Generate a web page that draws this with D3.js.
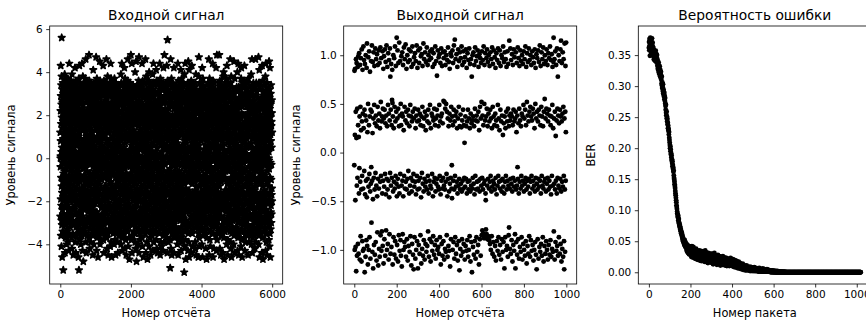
<!DOCTYPE html>
<html><head><meta charset="utf-8">
<script src="https://cdn.jsdelivr.net/npm/d3@7"></script>
<style>
body{margin:0;background:#fff}
svg{display:block}
text{font-family:"DejaVu Sans",sans-serif;fill:#000}
</style></head><body>
<svg id="c" width="866" height="321"></svg>
<script>
const titles = ["Входной сигнал", "Выходной сигнал", "Вероятность ошибки"];
const xLabels = ["Номер отсчёта", "Номер отсчёта", "Номер пакета"];
const yLabels = ["Уровень сигнала", "Уровень сигнала", "BER"];
const xTicks1 = [0, 2000, 4000, 6000];
const yTicks1 = [-4, -2, 0, 2, 4, 6];
const xTicks2 = [0, 200, 400, 600, 800, 1000];
const yTicks2 = [-1, -0.5, 0, 0.5, 1];
const xTicks3 = [0, 200, 400, 600, 800, 1000];
const yTicks3 = [0, 0.05, 0.10, 0.15, 0.20, 0.25, 0.30, 0.35];
const inputSampleStep = 2; // every stored input value is one plotted sample, numbered 0,2,4,...

const inputSignal = [
1.2,-2.7,0,-.4,2.2,.1,.8,4.3,-1.9,2.9,-3.6,1.6,-.9,3.4,-2.2,.3,-4.1,2.5,-1.3,3.8,5.6,-2.9,1.9,-3.1,.5,2.7,-1.6,-4.6,3.2,-.2,1.4,-2.4,2.6,-3.4,.1,2.1,-1.1,3.5,-2.6,.9,-1.8,1.7,-5.2,2.4,-.7,3.0,-2.0,2.2,-3.0,1.1,
-1.4,2.6,0,.7,1.8,-.1,3.3,-.6,-1.7,2.0,-3.5,.4,3.9,-2.8,1.3,-.1,2.8,-4.4,-1.0,3.6,.6,-2.3,1.5,-3.7,2.3,-.5,3.2,-1.8,2.5,-2.9,.2,1.0,-3.1,2.6,-1.2,3.4,-.8,-2.1,1.7,-4.0,2.9,-.3,1.1,-2.6,3.1,-1.5,.7,2.1,-3.3,2.2,
.9,-2.2,0,-3.4,1.6,.1,2.4,-1.3,3.7,-2.7,.3,-3.9,1.9,-.4,2.7,-1.9,3.3,-2.4,.8,-4.3,1.2,2.1,-3.0,.1,3.5,-1.1,-2.8,4.4,-.9,1.4,2.5,-3.6,.5,-1.6,3.1,-2.0,1.8,-.2,2.9,-3.2,2.0,-1.4,.6,-2.5,3.4,-.6,1.3,-2.7,2.2,-1.8,
2.8,-.5,0,1.5,3.6,-.1,.4,2.3,-1.2,-3.7,3.2,-.8,1.0,-2.6,2.0,-4.2,3.9,-1.5,.7,-3.0,1.7,-.1,2.6,-2.3,3.4,-1.0,2.7,-3.5,.2,1.9,-2.9,3.0,-.6,1.2,-4.5,2.4,-1.7,3.5,-2.0,.8,-3.1,1.6,-.3,2.7,-1.3,1.8,-2.4,.5,-1.8,2.1,
-1.6,3.3,0,.9,1.4,.1,2.5,-.4,4.2,-2.2,1.1,-1.1,3.1,-3.9,.3,2.2,-2.6,1.8,-.7,3.6,-4.4,.6,2.9,-1.9,-3.2,1.3,3.4,-.9,-2.5,2.5,.1,-3.6,2.0,-1.4,2.7,-.2,1.5,-3.0,3.2,-2.1,.8,-2.1,2.4,-1.0,1.7,1.9,-2.7,-.5,3.0,-3.3,
2.3,-1.2,0,-3.5,3.5,-.1,1.0,-4.6,2.8,-.6,1.9,-2.9,3.7,.2,-5.2,3.1,-1.7,.7,-3.1,2.1,-.8,4.3,-2.0,1.2,-3.8,2.6,-.3,-1.5,3.3,-2.6,.5,1.6,-3.4,2.1,-1.1,2.2,-2.3,.9,1.6,-4.0,-.4,1.4,-2.8,2.9,-1.9,.3,3.2,-3.0,1.8,-.9,
-2.5,2.0,0,3.4,-3.6,.1,-1.4,4.4,-2.2,.6,2.7,-3.3,1.5,-.1,3.0,-4.3,.8,-2.7,2.3,-1.0,3.8,-3.0,.2,1.7,-2.0,2.5,-4.8,3.3,-.5,1.3,-1.8,3.5,-2.9,.4,2.1,-1.7,1.9,-.8,2.0,-1.3,.9,-2.4,3.1,-3.4,1.4,-.3,2.8,-1.6,-2.1,1.6,
.7,-3.1,0,-1.1,3.7,-.1,1.2,-.4,2.9,-3.9,4.6,-1.5,.3,-2.1,3.2,1.6,-3.5,2.0,-.9,-4.4,2.6,.5,-1.9,3.4,-2.8,1.0,-.6,2.2,-3.2,2.2,-1.2,.1,3.0,-2.3,-3.6,1.8,3.5,-.2,-1.7,2.7,-2.0,.9,-2.5,3.3,1.5,-3.0,1.9,-1.0,.6,-2.2,
3.1,-1.8,0,1.3,2.5,.1,-2.9,4.8,.8,-1.3,2.0,-3.7,3.6,-2.4,.2,1.7,-4.2,2.8,-.7,-2.0,3.3,-1.1,1.1,-3.3,2.0,-.3,2.3,-2.7,.5,3.0,-3.9,1.4,-1.5,2.6,-.8,3.5,-2.1,.4,-2.6,1.9,-1.6,2.9,-3.1,.7,2.3,-2.5,1.2,-.1,3.4,-3.5,
-1.2,2.1,0,-3.0,.3,-.1,-2.3,2.7,-.9,-4.5,3.2,-1.7,.9,-3.6,2.4,-.4,4.1,-2.6,1.6,-1.0,3.0,-3.2,.6,2.2,-4.0,-1.9,1.0,3.5,-2.8,.1,2.8,-.6,-3.4,1.8,2.4,-2.0,.5,-1.4,3.3,-1.8,2.5,-.2,1.3,-2.5,1.6,-2.1,.8,2.0,-1.1,-3.1,
2.6,-3.5,0,-.7,3.1,.1,.4,4.7,-1.6,2.3,-3.0,1.7,-.3,3.4,-4.3,.9,2.0,-2.5,3.7,-1.3,-3.7,2.7,.2,-1.8,1.4,3.2,-2.9,-.8,2.2,-.1,1.9,-3.3,2.4,-1.1,.7,-4.6,3.0,-2.0,1.2,3.5,-.5,-2.7,2.2,-1.9,1.6,.3,1.9,-1.5,2.9,-3.4,
-.9,1.8,0,3.3,-3.6,-.1,.1,-1.2,4.5,-3.1,1.0,-.6,2.8,-4.0,.5,3.6,-2.1,1.5,-1.7,-3.8,2.1,3.1,-.4,-2.8,.8,-2.7,1.3,3.4,-1.4,2.6,-3.2,.6,-.2,2.0,-2.3,1.9,-1.0,3.0,-3.5,2.3,.2,-2.2,1.7,-2.6,3.5,-.7,2.4,-1.9,1.1,-3.0,
3.4,-2.7,0,1.6,-3.3,.1,2.9,4.3,-.5,-2.0,1.2,-3.8,3.1,-1.5,.3,2.2,-4.4,-.9,3.6,-2.4,1.4,.9,-3.1,2.6,-1.8,2.1,-.3,-2.9,1.9,3.2,-3.6,.4,-1.3,2.4,-2.8,3.0,-.1,1.1,-2.2,1.7,-3.4,2.0,-.8,1.5,-1.6,2.7,-1.9,.7,3.3,-2.5,
-.2,2.3,0,4.6,-1.4,-.1,-2.6,3.5,-.6,-3.7,2.8,.5,-1.9,3.1,-4.2,1.7,-.9,2.1,-3.0,.2,3.8,-2.3,1.3,-1.0,-3.5,2.5,-.4,3.3,-2.8,.8,-4.5,1.8,-1.6,2.9,-.3,1.6,-3.3,1.2,-2.1,2.0,-.7,2.4,-1.8,.6,1.5,-2.4,3.0,-1.2,-1.6,2.0,
1.3,-3.4,0,-.8,3.5,.1,.3,-4.1,2.2,-1.5,3.2,-2.9,1.6,4.4,-.4,-3.1,2.0,-1.1,.9,-3.9,3.7,-.2,1.8,-2.5,2.6,-1.7,-4.6,3.0,.5,-2.3,1.4,3.4,-1.6,-.6,2.3,-1.3,2.2,-2.7,1.0,-3.2,.1,2.9,-1.9,1.6,-2.3,1.7,-.5,2.4,-2.8,.7,
-3.5,3.1,0,1.9,-2.2,-.1,-.7,-3.0,2.5,.4,-1.8,3.4,-4.0,1.2,-2.6,2.8,-.3,3.7,-3.3,1.5,-1.4,.8,-3.8,2.1,3.3,-2.1,.2,2.3,-1.6,-3.4,2.6,-.9,1.7,-4.5,3.0,-2.4,1.1,3.5,-.5,-2.9,2.2,-1.2,.6,-1.7,2.0,-.1,1.4,-2.0,3.2,-3.1,
2.0,-1.6,0,-3.2,.5,.1,-2.5,1.3,-.8,-3.9,2.7,-.2,1.0,-2.3,3.1,-4.4,.7,2.4,-1.3,3.4,-3.0,1.6,-.6,-2.7,2.7,.3,2.9,-3.6,1.8,-1.1,-2.0,3.3,.9,-2.1,2.2,-.4,1.5,-3.3,1.8,-1.9,.6,2.5,-2.8,-.7,3.0,-3.5,1.2,2.1,-1.4,-2.6,
1.7,-2.2,0,-.3,-3.4,-.1,-1.0,.8,3.9,-2.9,1.1,-4.0,2.7,-.6,3.5,-1.7,-3.1,1.9,.2,-2.4,3.0,4.4,-3.7,1.4,-.9,2.2,-1.5,3.4,-2.6,.4,-4.3,2.8,-.1,1.6,-3.2,1.6,-2.0,.9,-1.2,2.5,-1.6,1.3,2.6,-.8,-2.5,3.1,-.4,-2.8,2.0,-1.3,
.5,3.3,0,1.0,-3.5,.1,-.5,4.2,-1.8,-3.0,1.8,.1,-2.2,3.0,-4.2,2.3,-1.1,3.7,-3.3,.7,-.8,1.5,-2.8,2.9,-1.6,2.8,-3.8,.3,2.1,-.2,-2.4,3.5,-1.3,1.2,-4.5,2.7,-.7,3.2,-3.1,.9,-1.9,2.0,-1.6,2.0,-.3,1.6,-2.6,3.4,-1.0,-1.9,
2.9,-1.4,0,3.6,-2.5,-.1,4.6,-3.4,1.4,2.2,-1.7,3.1,-4.1,.2,-2.1,1.9,-.9,2.6,-3.2,2.3,-1.2,.8,-3.7,3.3,-.1,2.4,-2.8,1.1,-4.7,3.0,.4,-1.5,2.8,-3.0,1.7,2.1,-2.3,-.4,3.5,-1.6,1.3,-1.0,2.1,-2.7,.9,3.4,-2.3,-.7,2.5,-1.8,
4.8,-.3,0,2.3,1.0,.1,3.2,-1.1,-3.8,.6,2.7,-2.6,4.4,-.8,1.5,-4.4,3.0,-1.6,.3,2.0,-3.1,1.7,-.5,1.2,-2.3,2.9,-3.6,.9,-1.3,3.4,-2.0,1.8,-.2,2.5,-2.8,.4,1.6,-1.9,1.3,-3.4,2.2,-.6,2.2,-2.4,-2.6,1.1,3.1,-1.0,.7,-3.0,
2.1,-1.7,0,-3.5,.2,-.1,-2.9,2.8,-.4,4.0,-3.9,1.7,-1.2,3.3,-2.2,.8,2.5,-4.2,-.9,3.0,-1.5,1.9,-3.2,4.5,-.1,2.3,-2.5,.5,1.7,-4.8,-1.0,2.6,-3.0,1.1,-.7,3.2,-2.1,1.6,-1.7,2.9,.3,-1.4,2.3,-2.7,1.0,-.5,3.4,-3.4,2.0,-1.9,
.9,3.1,0,-4.0,1.5,.1,2.4,-.3,3.6,-3.3,2.0,-1.8,.6,-2.8,4.7,-4.4,1.2,3.4,-.6,-2.0,2.7,-3.5,.1,1.8,-1.1,3.0,-2.6,-3.8,2.2,.4,-1.6,2.1,-.8,2.9,-3.1,1.3,-2.3,3.3,-2.5,.7,-.2,2.1,-1.4,1.8,-2.9,1.6,-1.6,2.5,-.9,3.5,
-1.3,2.6,0,.5,3.3,-.1,1.0,4.4,-3.7,-.5,2.3,-1.6,1.9,-4.1,3.0,-.7,-2.5,3.6,.8,-3.4,1.4,-1.0,2.8,-2.8,2.2,-.1,-4.6,3.2,1.1,-1.9,2.4,-3.2,.3,-2.1,3.5,1.7,-.8,-1.9,2.0,-1.2,1.9,-2.4,.6,1.5,-1.6,2.9,-.4,-1.7,3.1,-2.3,
1.2,-2.7,0,-.2,-3.5,.1,4.6,-1.4,.7,-3.0,3.1,-2.0,1.6,-4.4,-.6,2.5,-1.1,3.8,-3.2,.4,-2.3,1.3,-.9,2.8,-3.9,2.1,-1.6,.9,-2.6,3.2,-.3,1.9,-3.4,2.4,-4.7,3.5,-1.8,.2,-2.9,1.0,2.2,-.7,-1.6,2.3,-1.3,.6,3.0,-2.2,1.7,-3.1,
-.8,2.7,0,1.1,3.6,-.1,.3,-2.4,4.0,-4.1,2.3,-.4,1.4,-3.0,3.3,-2.1,.9,2.0,-3.7,-1.0,2.5,-2.8,1.6,-.5,2.6,-3.4,.1,3.1,-1.7,-4.5,2.2,-.2,1.2,-2.5,1.7,-3.1,1.8,-1.1,3.4,.5,-2.0,2.9,-1.8,.7,2.2,-1.4,1.5,-2.7,3.0,-.6,
3.2,-3.6,0,-1.2,2.4,.1,-2.9,3.9,-.7,-4.3,1.9,2.8,-2.0,.2,-3.3,3.5,-1.4,1.0,-2.6,4.4,-.3,2.1,-3.9,1.7,-1.8,3.0,-.9,-2.3,2.6,-2.0,.6,3.4,-3.1,1.4,-.4,2.3,-1.6,2.7,-2.8,.9,-3.5,1.2,3.1,-1.0,-2.2,2.0,-2.6,.3,1.7,-1.5,
-2.5,1.6,0,-.5,-3.4,-.1,-1.3,.8,4.1,-3.8,1.1,-2.2,2.5,-.2,3.6,-4.2,1.4,-1.8,3.0,-2.7,.5,2.2,-3.2,2.5,-.8,1.8,-2.4,3.4,-4.4,.1,-1.1,2.7,-3.0,1.0,1.8,-.6,-2.1,2.0,-1.6,1.3,2.3,-1.5,.7,-2.9,3.1,-.3,1.9,-2.0,2.4,-1.2,
3.5,-2.8,0,1.5,-3.5,.1,-.6,4.4,-1.9,-3.1,.9,3.2,-2.5,1.7,-4.5,2.6,-1.0,-.3,3.7,-2.2,1.2,-3.9,2.9,.2,-1.4,2.0,-2.6,1.1,-.7,3.3,-3.3,.6,2.3,-1.7,-4.1,1.9,1.6,-2.0,.3,-2.9,2.8,-.4,-1.7,1.4,2.6,-1.3,2.1,-3.0,.8,-2.4,
1.6,-3.2,0,-.9,-4.3,-.1,.5,-1.6,3.5,-2.7,-.1,4.2,-3.6,1.3,2.0,-2.3,3.2,-1.2,.7,-3.9,2.7,-.6,1.8,-2.8,4.8,-1.8,-3.4,2.2,.4,3.4,-2.0,1.0,-2.6,2.9,-.3,1.7,-1.4,1.5,-3.0,2.3,-.8,-2.5,1.9,-3.5,.9,2.6,-1.1,3.1,-2.0,1.2,
-2.1,3.3,0,1.9,-3.4,.1,-1.5,4.3,-2.8,.6,3.0,-3.7,1.2,-.9,2.1,-4.4,1.6,-2.2,3.6,5.5,-1.0,2.8,-3.1,.3,2.0,-2.5,1.4,-.6,3.2,-3.9,2.0,-1.7,.8,-2.7,3.5,-.2,2.6,-2.9,1.1,-1.3,1.8,-3.3,.5,2.3,-2.0,2.5,-.7,1.7,-1.6,2.9,
1.3,-2.4,0,-.5,-3.8,-.1,-5.1,.9,3.5,-1.6,-2.7,1.8,4.6,-3.3,.2,2.7,-1.1,-4.2,3.0,-.8,1.5,-3.0,2.4,-1.9,3.7,.4,-2.6,2.9,-4.5,1.0,-.3,2.9,-3.5,1.6,-1.2,3.3,-2.1,.7,-1.9,2.0,-.9,1.9,-2.8,1.2,-2.1,2.5,-1.4,.1,3.4,-3.2,
-2.3,1.1,0,-3.4,.5,.1,-.7,-1.8,4.2,-3.0,2.8,-4.4,1.4,-.2,3.2,-2.5,.8,2.3,-3.7,-1.0,2.0,-1.5,1.9,-2.9,.3,3.4,-3.6,-.6,2.6,-2.7,1.2,-2.0,3.0,.6,-1.3,-3.2,2.4,2.5,-2.4,1.7,-.4,-1.9,3.3,-1.7,.9,2.2,-2.7,1.0,1.9,-3.5,
.2,2.7,0,1.5,-1.2,-.1,-2.2,-4.0,2.1,.7,-1.6,3.1,-3.5,.4,4.4,-2.6,1.8,-.8,2.9,-4.5,1.0,3.6,-2.0,-.3,-3.3,2.4,-1.4,1.3,3.3,-2.8,-3.8,.5,2.0,-1.0,2.7,-.6,-2.4,3.0,-1.6,1.6,2.6,-1.8,.1,-2.2,3.4,-1.1,2.2,-2.9,1.2,1.8,
-3.4,1.9,0,3.2,-2.1,.1,4.1,-3.7,2.5,-1.3,-4.3,1.4,3.0,-.7,-2.5,2.3,-3.2,.3,3.7,-1.8,1.7,-.2,-3.9,2.8,2.6,-2.7,.6,-1.5,3.4,-3.5,2.0,-2.6,1.1,-.9,3.1,-2.2,2.6,-3.0,.4,1.5,2.0,-1.1,-1.6,2.2,-.4,3.5,-2.8,1.0,-2.0,2.9,
1.4,-2.6,0,-.8,-5.3,-.1,-1.2,.5,3.9,-3.4,1.7,-4.1,2.7,-.3,-2.0,3.4,.8,-3.0,4.4,-1.6,2.3,-.6,-3.8,1.2,3.0,-2.4,-4.7,1.9,.2,1.6,-1.4,2.5,-3.3,1.0,-.2,2.2,-2.9,.7,-1.9,2.8,-1.6,1.5,-.9,3.2,-2.4,.4,2.0,-2.2,1.7,-1.0,
-3.1,2.4,0,-1.7,3.5,.1,1.3,-4.3,3.0,-.4,2.2,-3.5,4.5,-1.1,.9,-2.3,3.3,-3.9,1.6,-.7,2.7,-1.5,.3,-3.2,4.1,-4.6,1.9,-.1,2.6,-2.5,1.7,-1.0,1.1,-1.6,2.0,-.6,3.2,-2.1,.5,-2.0,1.4,-1.8,2.9,-3.0,2.6,-.3,-2.7,1.7,3.4,-3.4,
2.3,-.9,0,1.2,3.6,-.1,2.8,-2.4,.4,-4.4,3.1,1.0,-3.1,4.3,-.5,-2.0,2.1,-1.2,3.4,-3.5,.7,-4.1,2.5,-.2,1.6,-2.8,1.8,-1.6,.9,-3.3,2.9,-.7,2.7,-2.3,1.3,-1.8,.2,2.2,-1.0,3.2,-2.6,1.5,-2.7,3.0,-.3,1.8,-1.9,.6,-3.0,2.6,
-1.1,3.3,0,.8,2.0,.1,-2.2,-.6,1.6,-3.9,2.7,-1.5,3.5,-4.2,.3,-2.7,1.1,2.4,-.9,-3.2,3.9,-1.8,.5,2.9,-2.5,-4.5,1.4,-.3,3.1,-1.3,2.1,-1.6,2.4,.7,-2.0,1.7,-.8,-3.0,2.6,-2.0,.1,1.6,-2.4,1.2,-1.6,3.0,-3.3,.9,-.4,2.3,
-2.9,1.5,0,-4.6,.4,-.1,-1.0,-3.5,3.8,-.7,1.3,-2.6,4.7,-1.9,2.2,-3.7,.6,3.1,-.2,-2.3,1.8,-4.1,2.8,-1.3,3.5,-.5,-3.0,1.0,2.0,-2.1,2.6,-.9,-1.8,1.6,3.2,-1.6,.2,-2.7,2.0,-2.3,1.7,-.3,1.4,-3.2,2.4,-1.2,2.5,-2.5,.8,-1.6,
3.0,-1.7,0,-4.0,2.2,.1,3.5,-2.9,1.3,4.2,-3.3,2.0,-1.1,-4.6,3.3,.9,-2.3,1.9,-.3,3.7,-3.6,1.2,2.7,-1.8,-2.6,2.6,-.8,1.6,-3.0,2.4,-2.3,.4,3.1,-1.5,.1,2.9,-1.9,1.0,-2.0,1.9,-.5,-3.4,2.3,2.4,-1.3,1.5,-2.7,3.2,-.9,-1.7,
1.8,-2.1,0,-3.5,.6,-.1,-1.2,2.5,-4.2,-.4,1.1,3.1,-2.8,.3,-1.7,2.8,-3.1,2.5,-.7,1.4,-2.4,-4.7,2.1,.8,3.4,-1.5,1.7,-3.7,2.6,-.2,1.8,-2.5,.5,-1.0,-3.3,2.3,2.3,-1.9,1.2,-2.0,-.6,2.9,-2.2,.9,3.5,-3.0,1.6,-1.4,2.0,-1.9,
.3,2.6,0,4.6,-1.1,.1,1.3,3.2,-.5,-4.5,2.1,-1.8,.7,3.7,-3.0,-.2,-2.2,2.9,-3.8,1.5,2.1,-1.4,.4,-2.7,3.0,-4.1,1.9,-.9,2.4,-3.4,3.4,-.4,1.0,-2.0,2.8,-1.6,2.7,-1.6,.6,-2.4,1.7,3.5,-1.2,-2.3,2.2,-.7,-2.9,3.1,1.1,-3.5,
2.4,-1.5,0,1.0,3.3,-.1,-2.5,4.4,-3.2,1.8,2.9,-1.1,.5,-4.6,3.6,-2.1,1.4,-.8,2.5,-3.5,2.0,-1.9,.2,3.1,-2.8,-4.2,1.2,2.2,-.6,-1.3,3.5,-3.1,.8,2.6,-2.3,1.6,-.1,-1.9,2.7,-1.6,3.2,-2.6,1.1,-.4,-2.4,2.0,1.8,-3.0,.7,-1.0,
-2.7,1.7,0,-.9,-3.6,.1,4.2,-1.8,.4,-2.3,1.3,-4.3,3.0,-.5,2.1,-3.1,.9,4.8,-1.4,-2.0,2.8,-3.8,1.5,-.2,1.6,-1.2,-2.9,2.3,.6,2.5,-2.6,1.0,-1.6,3.2,-2.6,.3,2.5,-3.3,1.9,-.7,1.9,-2.2,1.1,-2.0,2.9,-1.0,.2,-3.4,3.5,1.4,
4.8,-2.5,0,-1.3,3.1,-.1,2.2,-.4,1.6,-4.2,3.6,-1.9,2.6,-2.8,.1,2.3,-3.3,1.2,-.8,2.0,-1.6,3.4,-4.5,.5,-2.2,2.7,-.6,-3.6,1.8,1.8,-1.1,.9,-2.7,3.0,-2.0,2.4,-.3,1.4,-3.1,2.1,-1.8,2.1,-1.9,.8,3.3,-2.4,1.0,-.9,2.8,-3.5,
.6,3.2,0,-4.4,1.9,.1,2.7,-.2,3.8,-3.2,1.2,-2.1,4.0,-.7,-3.7,2.3,-1.0,.4,3.3,-4.7,1.6,-2.8,2.9,-.5,-1.7,1.6,-3.4,.9,2.0,-2.3,2.4,-.9,-1.9,1.4,3.0,-1.5,2.4,-3.0,.2,-2.1,2.6,-.6,1.7,-2.5,3.5,-3.3,1.1,-1.9,2.6,-.3,
-2.0,2.5,0,1.0,3.7,-.1,-4.0,2.0,-1.5,4.3,1.5,-2.9,3.2,-.1,-3.3,2.2,-1.2,.7,-4.5,3.4,-.4,1.8,-2.4,2.8,-3.8,2.0,-1.7,.3,-2.7,2.3,-3.1,1.3,3.5,-.6,-1.1,2.9,-2.3,1.6,-2.2,.8,1.9,-1.6,-.3,2.1,-1.9,1.2,3.1,-2.8,.4,-2.6,
3.0,-1.0,0,-3.4,.5,.1,4.6,-1.3,1.7,-3.9,2.7,-.5,-2.6,3.5,-4.2,1.1,-1.6,2.4,.2,-3.0,3.8,-2.1,1.4,-.9,-4.6,2.0,3.3,-3.5,.7,-1.4,-2.5,2.2,-.2,1.9,-3.2,2.6,-1.8,.9,-1.7,3.1,-.7,1.5,-2.9,2.4,-1.1,.3,-3.3,2.3,-2.0,1.6,
-1.5,2.8,0,.8,-4.0,-.1,-.3,1.2,-2.4,4.5,-3.6,2.1,-1.0,3.0,.4,-2.8,1.6,-4.4,2.5,-.6,3.7,-2.2,.2,1.3,-3.4,-1.2,2.1,-2.6,2.0,-.8,3.2,-1.8,1.7,-1.7,-2.7,.5,2.6,-2.0,1.6,-.4,-3.2,1.0,2.7,-1.4,2.2,-2.5,.7,3.3,-1.6,1.9,
-.9,-2.7,0,1.4,-3.3,.1,-1.5,4.0,-.5,-4.3,1.8,3.1,-2.2,.6,-1.2,2.7,-3.7,1.0,-.2,4.4,-2.5,1.5,-3.0,3.3,-1.8,.3,2.4,-4.5,1.1,-.7,1.8,-2.9,.9,-1.3,2.0,-3.5,1.6,-.4,1.6,-2.1,2.6,-1.0,2.6,-1.9,.2,-2.4,1.3,-.6,3.0,-3.4,
2.5,-.8,0,1.9,3.2,-.1,.5,-4.1,2.8,-1.1,3.7,-2.6,1.3,-.3,4.2,-3.3,.9,2.1,-1.7,-3.8,2.4,2.6,-.6,1.0,-2.4,-4.6,3.4,-1.4,.4,2.6,-3.0,1.6,-.9,3.5,-2.8,1.2,-2.4,2.9,.1,-1.6,3.3,-2.2,.7,2.0,-1.6,-.2,2.0,-1.9,1.5,-3.1,
1.0,3.6,0,-.5,-3.7,.1,-1.3,4.3,-3.0,.8,-2.7,1.7,3.0,-4.3,-.1,2.6,-1.8,.4,3.4,-3.4,1.4,-2.5,2.7,-.9,2.0,-3.9,1.1,-1.2,2.8,-2.6,.6,3.2,-2.0,1.5,-.6,-3.2,2.4,1.9,-1.6,.2,-2.8,1.9,-2.0,3.5,-1.0,.9,2.7,-3.5,1.2,-2.1,
3.1,-1.7,0,-3.6,2.4,-.1,-2.4,1.4,-.8,-4.5,2.0,-3.1,3.7,.6,-1.4,-2.2,2.9,-.4,1.6,-3.9,2.4,-1.1,2.3,-2.8,.1,-2.2,3.3,-.7,1.0,-2.0,2.6,-3.4,1.8,2.1,-1.5,-.2,-2.6,3.0,-2.7,1.3,2.1,-.9,1.6,-3.2,.5,-1.8,2.5,-2.3,1.7,-3.5,
.7,2.5,0,3.9,-1.2,.1,1.5,-4.0,2.9,-.5,3.4,-1.9,.2,-3.4,4.6,1.1,-2.7,2.2,-.8,-4.4,3.1,-1.4,1.8,-3.7,.4,2.6,2.3,-2.1,-.3,-3.1,1.3,-2.6,2.7,-1.0,3.5,-2.3,.9,-1.6,3.2,-1.8,2.0,-.6,2.0,-2.9,1.6,-.1,-3.3,2.4,-1.5,1.7,
-3.6,1.2,0,-.9,-2.4,-.1,-4.2,1.6,.3,3.3,-1.8,-3.0,2.1,4.6,-.4,1.4,-2.6,1.6,-3.9,.8,-1.3,2.9,-2.5,1.9,-.6,3.5,-2.0,.5,-3.5,2.3,2.0,-1.1,-2.8,1.0,3.1,-2.3,.2,2.5,-1.7,-3.2,1.7,1.8,-2.3,.7,-1.0,2.8,-1.7,1.3,-.2,2.4,
-2.1,.6,0,-3.3,1.8,.1,4.7,-2.6,2.4,-4.0,.3,-.9,3.5,-3.6,1.1,2.2,-1.9,4.1,-2.9,.5,-4.6,1.6,-.4,3.2,-2.2,2.7,-3.4,.9,-1.2,1.9,-1.8,2.0,1.3,-.7,-2.7,3.4,-1.6,2.5,-2.2,.1,-2.4,2.6,-.5,1.5,-3.1,1.6,-1.1,.8,-1.9,2.3,
1.5,-2.8,0,-.6,-4.4,-.1,.4,-1.8,4.3,-3.2,2.8,-.2,1.2,-2.3,3.6,-3.7,1.8,-1.3,.7,-4.7,3.1,-2.5,2.4,2.6,-.9,-3.0,1.0,-1.6,2.9,-1.6,.2,1.7,-2.1,1.6,-.3,-2.0,2.3,-1.0,3.4,-2.8,1.3,2.2,-3.4,.5,-1.5,2.5,-2.1,3.0,-.8,1.9,
-3.3,2.6,0,1.1,3.8,.1,-2.9,2.0,-4.3,.6,4.4,-1.9,3.1,-3.5,1.5,-.1,2.5,-2.4,-3.9,3.3,.9,-1.2,2.7,-2.6,1.8,-4.5,.3,2.7,-1.7,3.5,-3.0,1.4,-.6,2.2,-2.1,2.0,-1.7,.8,1.7,-1.1,2.9,-.4,-3.2,1.6,-2.6,1.2,-2.0,.4,3.0,-2.7,
2.0,-1.3,0,-3.8,.3,-.1,4.5,1.0,-.5,-3.1,2.8,-4.1,1.7,-1.6,3.2,.6,-2.8,2.3,4.2,-3.5,-.9,1.4,-2.0,1.9,-4.6,2.5,-.2,1.1,-3.3,3.0,-1.7,2.6,-2.5,.8,-2.2,3.4,-1.0,2.1,-3.0,1.5,-.3,1.7,-2.6,.5,-1.7,2.7,-1.4,2.1,-2.0,1.2
];

const outputSignal = [
-.13,.84,-1.0,.18,.86,-.49,-.97,.42,.96,-1.22,.15,.92,-.34,-1.06,.45,-.26,.88,-.94,.28,.99,
-1.04,.16,-.42,1.02,-.16,.37,-1.1,.9,-.3,.47,-.86,.97,.23,-.38,-1.12,1.06,.32,-.24,-.91,.85,
.4,-1.01,-.37,1.09,.25,-.99,.95,-.19,.44,-1.23,.91,-.43,.38,-1.07,1.0,-.29,.33,-.9,.87,-.46,
1.12,-.96,.21,-.27,-1.15,.5,.98,-.35,-1.0,.28,1.04,-.22,-.87,.37,.83,-.4,-1.09,.44,-.32,.94,
-.15,-.72,.42,1.1,-.29,-1.02,.2,.93,-.48,-1.19,.35,1.03,-.26,-.95,.49,.89,-.38,-1.05,.3,1.07,
-.21,-.92,.38,.96,-.34,-1.11,.27,1.01,-.45,-.82,.47,.9,-.27,-1.16,.33,1.05,-.37,-.99,.4,.92,
-1.07,.25,-.3,1.08,-.85,.52,-.24,.97,-1.01,.32,-.81,.37,-.42,1.04,-.96,.45,-.29,.86,-1.14,.35,
.99,-.35,-.89,.44,1.06,-.22,-1.06,.3,.93,-.43,-.8,.38,1.1,-.27,-1.0,.27,.88,-.38,-.94,.49,
1.02,-.29,-1.1,.4,.95,-.46,-.84,.33,1.07,-.21,.78,-1.04,.44,-.34,.91,-.97,.28,-.26,.54,.85,
.51,-1.15,.37,-.4,1.0,-.87,.25,-.3,.97,-1.05,.47,-.37,1.09,-.91,.32,-.24,.89,-1.09,.42,-.32,
1.18,-.45,-.95,.35,1.05,-.27,-1.12,.45,.92,-.35,-.85,.27,1.13,-.42,-1.01,.38,.94,-.22,-.9,.5,
-1.06,.28,.99,-.34,-1.17,.4,1.03,-.29,-.84,.37,.9,-.45,-1.0,.23,1.08,-.24,-.92,.47,.96,-.37,
-.97,.33,1.11,-.3,-1.07,.42,.86,-.38,-.89,.3,1.0,-.27,-1.11,.44,.93,-.19,-.96,.38,1.06,-.42,
.27,-1.02,.95,-.34,.49,-.86,1.04,-.26,.37,-1.16,.88,-.4,.32,-.94,1.09,-.29,.42,-1.05,.91,-.22,
-1.2,.35,.98,-.35,-.87,.45,1.02,-.3,-1.09,.25,.94,-.43,-1.0,.38,1.1,-.24,-.91,.32,.87,-.38,
-1.19,.44,1.05,-.29,-.95,.33,.92,-.37,-1.04,.4,1.07,-.26,-.85,.28,.99,-.46,-1.14,.37,1.01,-.21,
-.99,.47,.89,-.32,-1.06,.27,1.12,-.4,-.9,.35,.96,-.27,-1.1,.42,1.03,-.35,-.94,.23,.93,-.3,
-1.02,.38,1.08,-.38,-.96,.32,.9,-.24,-.81,.44,1.0,-.42,-1.07,.3,.95,-.29,-.89,.49,1.04,-.34,
-1.12,.25,.97,-.37,-.92,.4,1.06,-.22,-1.01,.37,.88,-.45,-.86,.33,1.02,-.3,-1.05,.45,.91,-.26,
-.95,.28,1.09,-.4,-1.09,.35,.94,-.32,-.9,.44,.79,-.27,-1.0,.38,1.05,-.35,-.97,.27,.98,-.38,
-1.04,.49,1.01,-.24,-.87,.32,.92,-.43,-1.15,.37,1.07,-.29,-.94,.4,.89,-.37,-1.06,.3,1.03,-.26,
-.91,.53,.97,-.34,-1.1,.52,1.04,-.38,-.99,.45,.9,-.3,-1.02,.5,1.0,-.22,-.85,.42,.95,-.45,
-1.07,.35,1.08,-.27,-.96,.27,.93,-.4,-1.01,.4,.86,-.32,-1.17,.33,1.02,-.26,-.89,.47,.99,-.37,
-.13,-.47,.37,1.05,-1.0,.28,.92,-.29,-.92,.44,1.1,-.38,-1.09,.32,1.16,-.24,-.87,.38,.96,-.35,
-1.04,.42,1.01,-.3,-.95,.25,.88,-.42,-1.11,.35,1.06,-.34,-.91,.47,.94,-.27,-1.21,.27,1.03,-.38,
-.99,.39,.97,-.32,-1.06,.26,1.09,-.4,-.89,.33,.9,-.29,-1.02,.44,1.04,-.37,-.94,.28,.93,-.26,
.1,-1.1,.98,-.35,.37,-.96,1.06,-.27,.27,-1.01,.87,-.42,.32,-.9,1.02,-.3,.44,-1.07,.95,-.38,
-1.0,.35,1.07,-.29,-.86,.25,.91,-.4,-1.12,.4,.96,-.34,-.92,.3,.78,-1.23,.33,-.37,1.0,-.26,
-.97,.37,1.03,-.32,-1.05,.27,.9,-.43,-.91,.45,1.08,-.24,-1.09,.33,.94,-.38,-.87,.38,.99,-.3,
-1.02,.32,1.05,-.37,-.95,.42,.88,-.29,-1.15,.23,1.01,-.4,-.89,.47,.97,-.27,-1.06,.35,.92,-.34,
.52,-.85,1.04,-.26,-.8,.38,.95,-.38,-.83,.28,1.09,-.32,-.88,.5,.9,-.29,-.86,.33,1.02,-.42,
-.49,-.79,.37,.97,-.84,.45,1.06,-.34,-.89,.27,.93,-.27,-.86,.4,1.0,-.37,-.9,.32,.89,-.3,
-.94,.44,1.03,-.24,-1.0,.35,.96,-.4,-.86,.25,1.08,-.35,-1.04,.47,.91,-.29,-.92,.37,1.05,-.32,
-1.07,.28,.98,-.38,-.96,.4,.87,-.26,-1.11,.33,1.02,-.43,-.91,.27,.95,-.34,-1.01,.49,1.07,-.24,
-.87,.35,.92,-.3,-1.05,.23,1.05,-.37,-.95,.44,.89,-.29,-1.1,.32,1.0,-.4,-.89,.38,.97,-.27,
-1.02,.18,1.09,-.35,-.92,.3,.93,-.42,-1.19,.37,1.03,-.3,-.87,.25,.96,-.24,-1.0,.42,.88,-.38,
-.96,.32,1.04,-.29,-1.07,.45,.91,-.34,-.85,.27,-.77,1.15,.38,-.37,-.99,.33,1.07,-.27,-1.04,.4,
.95,-.32,-.9,.37,1.01,-.4,-1.12,.28,.9,-.26,-.95,.44,1.06,-.35,-1.01,.32,.98,-.29,-.84,.35,
-1.19,.42,1.03,-.38,-.92,.21,.92,-.34,-1.05,.38,-.15,1.08,-.27,-.89,.3,.97,-.42,-1.09,.45,.89,
-.3,-.97,.33,1.05,-.37,-1.02,.27,.94,-.24,-.87,.4,1.0,-.34,-1.1,.37,.91,-.29,-.94,.49,1.04,
-.4,-1.0,.35,.96,-.32,-1.06,.44,1.09,-.26,-.91,.28,.88,-.38,-1.14,.52,1.02,-.29,-.96,.38,.93,
-.35,-1.04,.32,1.07,-.27,-.86,.42,.95,-.42,-1.07,.47,1.0,-.3,-.9,.37,.9,-.24,-1.01,.33,1.04,
-.37,-.95,.45,.98,-.29,-1.11,.4,.92,-.34,-1.0,.25,1.06,-.4,-.92,.5,.87,-.26,-1.05,.35,1.01,
-1.2,-.32,.42,.97,-.38,-.89,.32,1.05,-.27,-1.09,.44,.93,-.35,-.97,.38,1.1,-.29,-1.02,.28,.89,
-.42,-.94,.47,1.03,-.24,-1.06,.37,.96,-.34,-.87,.27,1.08,-.37,-1.12,.42,.91,-.3,-.96,.55,1.0,
-.27,-1.04,.35,.94,-.4,-.91,.45,1.06,-.32,-1.0,.4,.9,-.26,-1.1,.32,1.02,-.38,-.95,.44,.97,
-.29,-1.05,.38,1.09,-.35,-.9,.28,.95,-.43,-1.07,.37,1.01,-.24,-.99,.49,.88,-.34,-1.02,.25,.93,
1.18,-.81,.35,-.32,.96,-1.1,.42,-.38,1.04,-.92,.17,-.29,.9,-1.01,.33,-.42,1.07,-.96,.45,-.26,
.78,-1.06,.38,-.34,1.0,-.87,.3,-.37,.94,-1.04,.44,-.27,1.06,-.94,.37,1.15,-.4,-1.12,.32,.92,
-.3,-.99,.4,1.03,-.35,-1.07,.47,.96,-.24,-.91,-1.2,.35,1.12,-.38,-1.02,.42,.89,-.29,.21,1.13
];

const ber = [
.362,.371,.358,.376,.366,.349,.372,.378,.361,.368,.355,.374,.369,.352,.363,.377,.36,.357,.37,.364,
.356,.348,.361,.351,.343,.358,.35,.346,.355,.341,.353,.349,.344,.357,.347,.34,.352,.338,.346,.35,
.339,.333,.342,.328,.336,.331,.325,.338,.322,.33,.327,.319,.332,.324,.316,.326,.32,.313,.323,.317,
.31,.304,.315,.301,.297,.306,.299,.292,.303,.288,.295,.286,.291,.283,.289,.279,.284,.276,.281,.272,
.268,.262,.27,.257,.253,.259,.248,.251,.243,.247,.238,.241,.232,.236,.228,.231,.222,.226,.217,.213,
.209,.205,.2,.203,.195,.198,.19,.192,.185,.188,.18,.182,.176,.179,.171,.173,.167,.169,.162,.164,
.156,.152,.149,.146,.142,.139,.136,.131,.127,.124,.12,.116,.113,.108,.105,.102,.098,.095,.093,.09,
.088,.091,.084,.081,.086,.078,.08,.075,.077,.072,.074,.069,.071,.066,.068,.063,.065,.061,.064,.059,
.057,.06,.054,.052,.056,.05,.053,.048,.051,.046,.049,.044,.052,.043,.047,.041,.045,.048,.04,.044,
.042,.036,.039,.045,.033,.038,.041,.035,.043,.031,.037,.04,.034,.029,.038,.042,.032,.036,.03,.039,
.035,.028,.04,.031,.025,.037,.03,.042,.027,.034,.024,.038,.029,.033,.041,.026,.032,.036,.023,.03,
.034,.027,.022,.036,.029,.031,.025,.038,.028,.021,.033,.026,.035,.03,.024,.032,.02,.029,.034,.027,
.025,.031,.022,.028,.035,.019,.027,.024,.032,.021,.029,.026,.018,.03,.023,.034,.025,.02,.028,.031,
.022,.029,.018,.026,.033,.021,.024,.03,.017,.027,.023,.035,.02,.026,.019,.028,.032,.022,.025,.016,
.024,.019,.028,.021,.015,.027,.031,.02,.025,.017,.029,.022,.018,.026,.03,.016,.023,.027,.02,.024,
.026,.018,.022,.03,.015,.021,.028,.019,.024,.013,.022,.027,.017,.025,.02,.031,.016,.023,.019,.026,
.019,.024,.014,.022,.027,.017,.021,.012,.025,.018,.023,.015,.028,.02,.016,.024,.019,.013,.022,.026,
.017,.023,.014,.02,.011,.025,.018,.015,.022,.019,.013,.024,.016,.021,.012,.018,.026,.015,.02,.017,
.016,.021,.012,.019,.024,.014,.018,.011,.022,.015,.02,.017,.013,.023,.016,.01,.019,.021,.014,.018,
.015,.02,.011,.018,.013,.022,.016,.01,.019,.014,.021,.012,.017,.023,.015,.011,.018,.013,.02,.016,
.013,.019,.01,.016,.021,.012,.015,.009,.018,.014,.011,.02,.013,.016,.008,.017,.012,.019,.014,.01,
.015,.009,.013,.018,.011,.007,.014,.012,.016,.008,.013,.01,.017,.011,.006,.014,.009,.012,.015,.008,
.011,.007,.013,.009,.005,.012,.008,.01,.006,.011,.009,.014,.007,.004,.01,.008,.012,.006,.009,.005,
.008,.005,.01,.006,.003,.009,.007,.004,.008,.006,.011,.005,.007,.003,.009,.006,.004,.008,.005,.007,
.006,.004,.008,.003,.007,.005,.009,.002,.006,.004,.007,.005,.003,.008,.004,.006,.002,.005,.007,.004,
.005,.003,.007,.004,.002,.006,.004,.008,.003,.005,.002,.006,.004,.003,.007,.002,.005,.004,.006,.003,
.004,.002,.005,.003,.006,.002,.004,.001,.005,.003,.004,.007,.002,.003,.005,.001,.004,.003,.002,.005,
.003,.002,.004,.001,.005,.003,.002,.004,.006,.002,.003,.001,.004,.002,.003,.005,.001,.003,.002,.004,
.002,.003,.001,.004,.002,.001,.003,.002,.005,.001,.002,.003,.001,.002,.004,.001,.002,.003,.001,.002,
.002,.001,.003,.001,.002,0,.002,.001,.003,.001,0,.002,.001,.002,0,.001,.003,.001,0,.002,
.001,0,.002,.001,0,.001,.002,0,.001,0,.001,.002,0,.001,0,0,.001,0,.002,0,
0,.001,0,0,.001,0,.001,0,0,0,.001,0,0,.001,0,0,0,.001,0,0,
0,0,.001,0,0,0,0,.001,0,0,0,0,0,0,.001,0,0,0,0,0,
0,0,0,0,0,0,0,0,0,0,0,0,0,0,0,0,0,0,0,0,
0,0,0,0,0,0,0,0,0,0,0,0,0,0,0,0,0,0,0,0,
0,0,0,0,0,0,0,0,0,0,0,0,0,0,0,0,0,0,0,0,
0,0,0,0,0,0,0,0,0,0,0,0,0,0,0,0,0,0,0,0,
0,0,0,0,0,0,0,0,0,0,0,0,0,0,0,0,0,0,0,0,
0,0,0,0,0,0,0,0,0,0,0,0,0,0,0,0,0,0,0,0,
0,0,0,0,0,0,0,0,0,0,0,0,0,0,0,0,0,0,0,0,
0,0,0,0,0,0,0,0,0,0,0,0,0,0,0,0,0,0,0,0,
0,0,0,0,0,0,0,0,0,0,0,0,0,0,0,0,0,0,0,0,
0,0,0,0,0,0,0,0,0,0,0,0,0,0,0,0,0,0,0,0,
0,0,0,0,0,0,0,0,0,0,0,0,0,0,0,0,0,0,0,0,
0,0,0,0,0,0,0,0,0,0,0,0,0,0,0,0,0,0,0,0,
0,0,0,0,0,0,0,0,0,0,0,0,0,0,0,0,0,0,0,0,
0,0,0,0,0,0,0,0,0,0,0,0,0,0,0,0,0,0,0,0,
0,0,0,0,0,0,0,0,0,0,0,0,0,0,0,0,0,0,0,0,
0,0,0,0,0,0,0,0,0,0,0,0,0,0,0,0,0,0,0,0,
0,0,0,0,0,0,0,0,0,0,0,0,0,0,0,0,0,0,0,0,
0,0,0,0,0,0,0,0,0,0,0,0,0,0,0,0,0,0,0,0
];

// ---------- layout ----------
const svg = d3.select("#c");
const TOP = 26, BOTTOM = 284, PW = 233;
const LEFTS = [49.7, 343.7, 638.3];
const TICK_FS = 10.5, LABEL_FS = 11.4, TITLE_FS = 13.8;
const YLABEL_X = [15, 299.8, 595.2];

function padded(ext) {
  const p = (ext[1] - ext[0]) * 0.05;
  return [ext[0] - p, ext[1] + p];
}

function drawPanel(k, pts, xTicks, yTicks, yFmt, marker) {
  const left = LEFTS[k];
  const x = d3.scaleLinear().domain(padded(d3.extent(pts, d => d[0]))).range([left, left + PW]);
  const y = d3.scaleLinear().domain(padded(d3.extent(pts, d => d[1]))).range([BOTTOM, TOP]);
  const g = svg.append("g");
  const cid = "clip" + k;
  svg.append("clipPath").attr("id", cid).append("rect")
    .attr("x", left).attr("y", TOP).attr("width", PW).attr("height", BOTTOM - TOP);
  const pg = g.append("g").attr("clip-path", `url(#${cid})`);
  if (marker === "star") {
    const star = d3.symbol(d3.symbolStar, 14);
    pg.selectAll("path").data(pts).join("path")
      .attr("d", star)
      .attr("transform", d => `translate(${x(d[0])},${y(d[1])})`)
      .attr("fill", "#000").attr("stroke", "#000").attr("stroke-width", 1.6)
      .attr("stroke-linejoin", "round");
  } else {
    pg.selectAll("circle").data(pts).join("circle")
      .attr("cx", d => x(d[0])).attr("cy", d => y(d[1])).attr("r", 2.45)
      .attr("fill", "#000");
  }
  const xa = g.append("g").attr("transform", `translate(0,${BOTTOM})`)
    .call(d3.axisBottom(x).tickValues(xTicks).tickFormat(d3.format("d")).tickSize(3.5).tickPadding(3.5));
  const ya = g.append("g").attr("transform", `translate(${left},0)`)
    .call(d3.axisLeft(y).tickValues(yTicks).tickFormat(d3.format(yFmt)).tickSize(3.5).tickPadding(3.5));
  [xa, ya].forEach(a => {
    a.select(".domain").remove();
    a.selectAll(".tick line").attr("stroke", "#000").attr("stroke-width", 0.8);
    a.selectAll(".tick text").attr("fill", "#000").style("font-size", TICK_FS + "px")
      .style("font-family", '"DejaVu Sans", sans-serif');
  });
  g.append("rect").attr("x", left).attr("y", TOP).attr("width", PW).attr("height", BOTTOM - TOP)
    .attr("fill", "none").attr("stroke", "#000").attr("stroke-width", 0.8);
  g.append("text").attr("x", left + PW / 2).attr("y", 19.5).attr("text-anchor", "middle")
    .style("font-size", TITLE_FS + "px").text(titles[k]);
  g.append("text").attr("x", left + PW / 2).attr("y", 316.5).attr("text-anchor", "middle")
    .style("font-size", LABEL_FS + "px").text(xLabels[k]);
  g.append("text").attr("transform", `translate(${YLABEL_X[k]},${(TOP + BOTTOM) / 2}) rotate(-90)`)
    .attr("text-anchor", "middle").style("font-size", LABEL_FS + "px").text(yLabels[k]);
}

drawPanel(0, inputSignal.map((v, i) => [i * inputSampleStep, v]), xTicks1, yTicks1, "d", "star");
drawPanel(1, outputSignal.map((v, i) => [i, v]), xTicks2, yTicks2, ".1f", "dot");
drawPanel(2, ber.map((v, i) => [i, v]), xTicks3, yTicks3, ".2f", "dot");
</script>
</body></html>
